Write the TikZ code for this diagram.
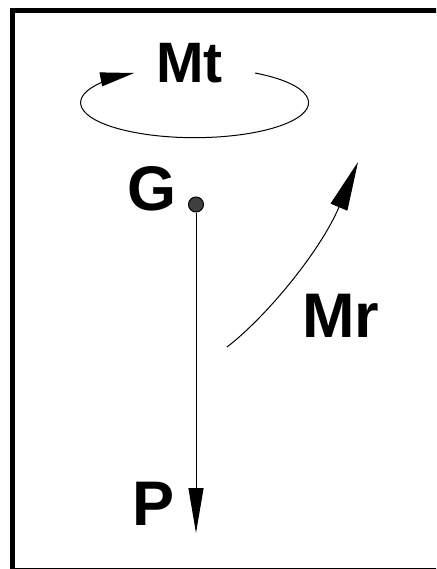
\documentclass[tikz,border=0pt]{standalone}
\usepackage{fontspec}
\setmainfont{Liberation Sans}
\usepackage{tikz}
\usetikzlibrary{arrows.meta,positioning}

\begin{document}
\begin{tikzpicture}[x=1pt, y=-1pt, line width=1pt]
  % Define styles
  \tikzstyle{bigtxt}=[inner sep=0pt, anchor=base west, font=\bfseries\fontsize{63}{63}\selectfont]
  \tikzstyle{toptxt}=[bigtxt, font=\bfseries\fontsize{57}{57}\selectfont]
  \tikzstyle{mass}=[circle, draw, fill=black!75, minimum size=15pt, inner sep=0pt]

  % Frame
  \clip (0,0) rectangle (436,569);
  \draw[line width=5pt] (12.5,10.5) rectangle (445,570.5);

  % Nodes
  \node[toptxt]  (Mt)  at (156,83)   {Mt};
  \node[bigtxt]  (G)   at (127,211)  {G};
  \node[mass]    (dot) at (196,204.5) {};
  \node[bigtxt]  (Mr)  at (302,337)  {Mr};
  \node[bigtxt]  (P)   at (132,525)  {P};

  \coordinate (ptip)    at (196,533);
  \coordinate (mtstart) at (255,73);
  \coordinate (mrstart) at (227,347);
  \coordinate (mrtip)   at (358,162);

  % Edges
  \draw[-{Triangle[length=45pt,width=15pt]}] (dot) -- (ptip);
  \draw[-{Triangle[length=34pt,width=14pt]}] (mtstart)
    arc[start angle=-58, end angle=238, x radius=114, y radius=35];
  \draw[-{Triangle[length=49pt,width=18pt]}] (mrstart)
    .. controls (265,318) and (320,252) .. (mrtip);
\end{tikzpicture}
\end{document}
